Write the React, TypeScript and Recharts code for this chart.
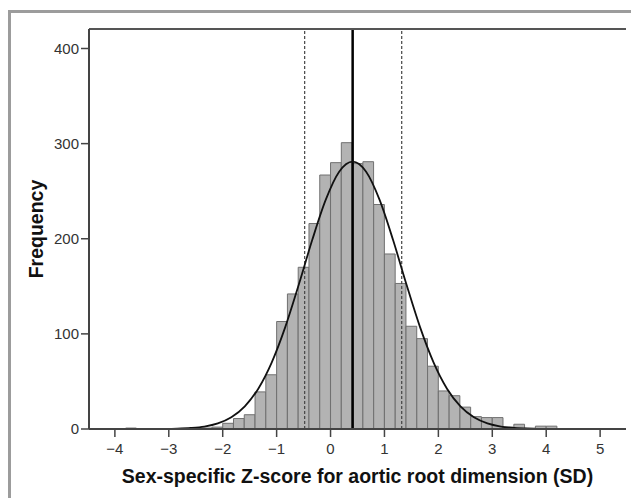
import React from "react";
import { ComposedChart, Bar, Line, XAxis, YAxis, ReferenceLine, Label } from "recharts";

// histogram bins (0.2 SD wide), midpoints and counts
const binMids = [
  -3.7, -2.3, -2.1, -1.9, -1.7, -1.5, -1.3, -1.1, -0.9, -0.7,
  -0.5, -0.3, -0.1, 0.1, 0.3, 0.5, 0.7, 0.9, 1.1, 1.3,
  1.5, 1.7, 1.9, 2.1, 2.3, 2.5, 2.7, 2.9, 3.1, 3.3,
  3.5, 3.7, 3.9, 4.1,
];
const binCounts = [
  1, 1, 2, 6, 11, 15, 39, 57, 113, 142,
  170, 216, 267, 280, 301, 279, 281, 236, 184, 153,
  108, 95, 66, 40, 35, 23, 13, 12, 12, 2,
  5, 1, 3, 3,
];

const curveX = [
  -3.09, -2.84, -2.59, -2.34, -2.09, -1.84, -1.59, -1.34, -1.09, -0.84, -0.59, -0.34, -0.09, 0.16,
  0.41,
  0.66, 0.91, 1.16, 1.41, 1.66, 1.91, 2.16, 2.41, 2.66, 2.91, 3.16, 3.41, 3.66, 3.91,
];
const curveY = [
  0.15, 0.4, 1.1, 2.6, 5.9, 12.3, 23.8, 42.4, 70.1, 107.1, 151.6, 198.6, 240.8, 270.4,
  281,
  270.4, 240.8, 198.6, 151.6, 107.1, 70.1, 42.4, 23.8, 12.3, 5.9, 2.6, 1.1, 0.4, 0.15,
];

const xTicks = [-4, -3, -2, -1, 0, 1, 2, 3, 4, 5];
const yTicks = [0, 100, 200, 300, 400];
const meanZ = 0.41;
const sdLines = [-0.48, 1.32];

const bins = binMids.map((x, i) => ({ x, count: binCounts[i] }));
const curve = curveX.map((x, i) => ({ x, fit: curveY[i] }));

const font = "'Liberation Sans', Arial, sans-serif";
const minus = (v: number) => String(v).replace("-", "\u2212");

const XTitle = (props: any) => {
  const { x, y, width } = props.viewBox;
  return (
    <text x={x + width / 2} y={y + 54} textAnchor="middle" fontFamily={font} fontSize={19.5} fontWeight="bold" fill="#111">
      Sex-specific Z-score for aortic root dimension (SD)
    </text>
  );
};

const YTitle = (props: any) => {
  const { y, height } = props.viewBox;
  const cx = 32;
  const cy = y + height / 2;
  return (
    <text x={cx} y={cy} transform={`rotate(-90, ${cx}, ${cy})`} textAnchor="middle" fontFamily={font} fontSize={19.5} fontWeight="bold" fill="#111">
      Frequency
    </text>
  );
};

export default function App() {
  return (
    <div
      style={{
        position: "relative",
        top: 2,
        width: 631,
        height: 490,
        boxSizing: "border-box",
        borderTop: "3px solid #9c9c9c",
        borderLeft: "3px solid #9c9c9c",
        background: "#fff",
      }}
    >
      <ComposedChart width={628} height={487} data={bins} margin={{ top: 15, right: 13, bottom: 0, left: 0 }}>
        <XAxis
          dataKey="x"
          type="number"
          domain={[-4.48, 5.48]}
          ticks={xTicks}
          interval={0}
          allowDataOverflow
          height={71}
          tickSize={8}
          tickMargin={6}
          tick={{ fontSize: 15, fill: "#333", fontFamily: font }}
          tickFormatter={minus}
          axisLine={{ stroke: "#444", strokeWidth: 2 }}
          tickLine={{ stroke: "#444", strokeWidth: 1.5 }}
        >
          <Label content={XTitle} />
        </XAxis>
        <XAxis
          xAxisId="top"
          dataKey="x"
          orientation="top"
          type="number"
          domain={[-4.48, 5.48]}
          allowDataOverflow
          height={1}
          tick={false}
          tickLine={false}
          axisLine={{ stroke: "#555", strokeWidth: 2 }}
        />
        <YAxis
          type="number"
          domain={[0, 420.5]}
          ticks={yTicks}
          allowDataOverflow
          width={78}
          tickSize={8}
          tickMargin={2}
          tick={{ fontSize: 15, fill: "#333", fontFamily: font }}
          axisLine={{ stroke: "#444", strokeWidth: 2 }}
          tickLine={{ stroke: "#444", strokeWidth: 1.5 }}
        >
          <Label content={YTitle} />
        </YAxis>
        <YAxis
          yAxisId="right"
          orientation="right"
          width={0}
          tick={false}
          tickLine={false}
          axisLine={{ stroke: "#666", strokeWidth: 1.5 }}
        />
        <Bar dataKey="count" fill="#b3b3b3" stroke="#707070" strokeWidth={1} barSize={10.7} isAnimationActive={false} />
        <ReferenceLine x={sdLines[0]} stroke="#444" strokeWidth={1.2} strokeDasharray="3 2" />
        <ReferenceLine x={sdLines[1]} stroke="#444" strokeWidth={1.2} strokeDasharray="3 2" />
        <ReferenceLine x={meanZ} stroke="#000" strokeWidth={2.5} />
        <Line xAxisId="top" data={curve} dataKey="fit" type="monotone" stroke="#111" strokeWidth={1.8} dot={false} isAnimationActive={false} />
      </ComposedChart>
    </div>
  );
}
